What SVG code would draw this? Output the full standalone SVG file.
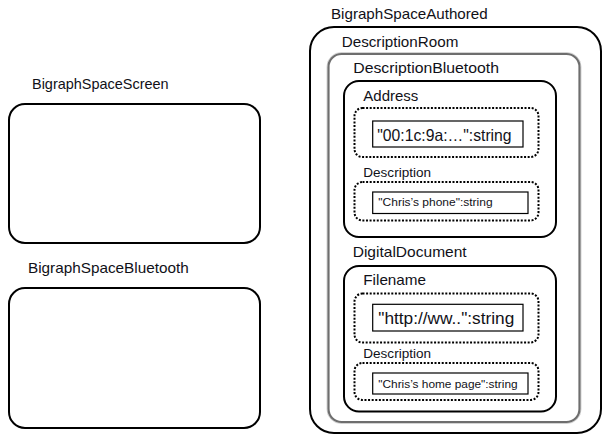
<svg xmlns="http://www.w3.org/2000/svg" width="606" height="437" viewBox="0 0 606 437">
<style>
  text { font-family: "Liberation Sans", Arial, sans-serif; fill: #111118; }
  .lbl { font-size: 14.5px; }
  .sm { font-size: 12px; }
  .big { font-size: 16.5px; }
  .tiny { font-size: 10.5px; }
  .solid { fill: none; stroke: #000; stroke-width: 2; }
  .room { fill: none; stroke: #6e6e6e; stroke-width: 2.2; }
  .room2 { fill: none; stroke: #c8c8c8; stroke-width: 0.8; }
  .dot { fill: none; stroke: #000; stroke-width: 2; stroke-dasharray: 2 1.6; }
  .val { fill: #fff; stroke: #000; stroke-width: 1.2; }
</style>
<rect width="606" height="437" fill="#fff"/>

<g id="BigraphSpaceScreen">
  <text class="lbl" x="32" y="89" textLength="136.6" lengthAdjust="spacingAndGlyphs">BigraphSpaceScreen</text>
  <rect class="solid" x="9" y="104" width="251" height="139" rx="16"/>
</g>

<g id="BigraphSpaceBluetooth">
  <text class="lbl" x="28" y="273" textLength="160.7" lengthAdjust="spacingAndGlyphs">BigraphSpaceBluetooth</text>
  <rect class="solid" x="9" y="288" width="251" height="140" rx="16"/>
</g>

<g id="BigraphSpaceAuthored">
  <text class="lbl" x="331" y="18.5" textLength="156.7" lengthAdjust="spacingAndGlyphs">BigraphSpaceAuthored</text>
  <rect class="solid" x="310" y="27" width="291" height="406" rx="24"/>
</g>

<g id="DescriptionRoom">
  <text class="lbl" x="341.7" y="46.5" textLength="116.7" lengthAdjust="spacingAndGlyphs">DescriptionRoom</text>
  <rect class="room2" x="327" y="52.5" width="254" height="371" rx="14"/>
  <rect class="room" x="328.5" y="54" width="251" height="368" rx="13"/>
</g>

<g id="DescriptionBluetooth">
  <text class="lbl" x="353.3" y="72.7" textLength="145.7" lengthAdjust="spacingAndGlyphs">DescriptionBluetooth</text>
  <rect class="solid" x="344" y="81" width="212" height="156" rx="15"/>
</g>

<g id="Address">
  <text class="lbl" x="363.3" y="100.5" textLength="55" lengthAdjust="spacingAndGlyphs">Address</text>
  <rect class="dot" x="354.5" y="108" width="184" height="49" rx="8"/>
  <rect class="val" x="372.7" y="121" width="150.3" height="26"/>
  <text class="big" x="377.3" y="140.5" textLength="134.3" lengthAdjust="spacingAndGlyphs">"00:1c:9a:…":string</text>
</g>

<g id="BluetoothDescription">
  <text class="sm" x="363.3" y="176.7" textLength="67.7" lengthAdjust="spacingAndGlyphs">Description</text>
  <rect class="dot" x="354.5" y="182" width="184" height="38.5" rx="8"/>
  <rect class="val" x="372.7" y="192" width="155.3" height="21.5"/>
  <text class="tiny" x="378.3" y="206" textLength="114.3" lengthAdjust="spacingAndGlyphs">"Chris’s phone":string</text>
</g>

<g id="DigitalDocument">
  <text class="lbl" x="352.7" y="256.7" textLength="114" lengthAdjust="spacingAndGlyphs">DigitalDocument</text>
  <rect class="solid" x="344" y="266" width="212" height="145.5" rx="15"/>
</g>

<g id="Filename">
  <text class="lbl" x="363.3" y="285" textLength="62.7" lengthAdjust="spacingAndGlyphs">Filename</text>
  <rect class="dot" x="354.5" y="293.5" width="184" height="49" rx="8"/>
  <rect class="val" x="372.7" y="304.3" width="150.3" height="26.7"/>
  <text class="big" x="378.3" y="324" textLength="136" lengthAdjust="spacingAndGlyphs">"http://ww..":string</text>
</g>

<g id="DocumentDescription">
  <text class="sm" x="363.3" y="358.3" textLength="67.7" lengthAdjust="spacingAndGlyphs">Description</text>
  <rect class="dot" x="354.5" y="363" width="184" height="37" rx="8"/>
  <rect class="val" x="372.7" y="373" width="155.3" height="21"/>
  <text class="tiny" x="378.3" y="387.5" textLength="139.3" lengthAdjust="spacingAndGlyphs">"Chris’s home page":string</text>
</g>

<g id="connectors"></g>
</svg>
